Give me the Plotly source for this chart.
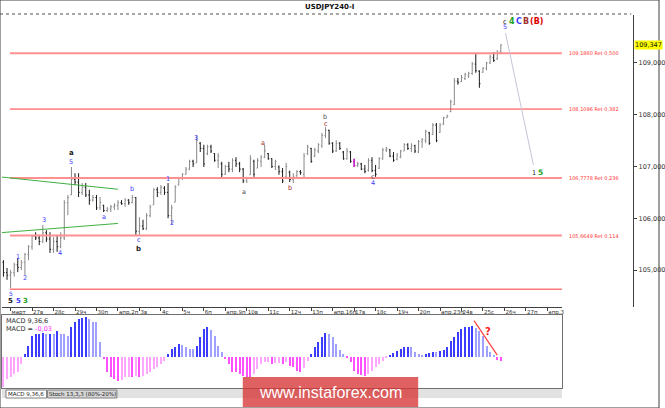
import plotly.graph_objects as go

# USDJPY 4-hour bars, bar 2 opens on 26 March (six bars per trading day)
bar_open = [
    105.15, 104.95, 104.90, 104.95, 105.10, 105.05, 105.15, 105.30, 105.45, 105.65,
    105.62, 105.55, 105.72, 105.60, 105.40, 105.55, 105.45, 105.62, 106.30, 106.45,
    106.75, 106.70, 106.50, 106.60, 106.45, 106.35, 106.40, 106.20, 106.25, 106.15,
    106.18, 106.22, 106.25, 106.30, 106.28, 106.35, 106.30, 106.40, 105.75, 105.85,
    105.80, 106.05, 106.26, 106.55, 106.50, 106.58, 106.50, 106.05, 106.31, 106.64,
    106.78, 106.85, 106.95, 107.10, 107.07, 107.45, 107.35, 107.25, 107.38, 107.25,
    107.12, 107.05, 106.85, 107.00, 106.95, 107.12, 107.05, 106.95, 106.72, 106.84,
    107.10, 106.97, 107.10, 107.18, 107.25, 107.15, 107.00, 106.99, 106.90, 106.80,
    106.89, 106.75, 106.82, 106.90, 106.85, 107.25, 107.35, 107.20, 107.30, 107.40,
    107.60, 107.70, 107.45, 107.30, 107.45, 107.28, 107.15, 107.28, 107.10, 107.02,
    107.05, 106.95, 106.93, 107.12, 106.92, 106.97, 107.15, 107.32, 107.32, 107.20,
    107.14, 107.18, 107.30, 107.42, 107.35, 107.40, 107.28, 107.48, 107.50, 107.65,
    107.62, 107.80, 107.66, 107.82, 107.94, 108.06, 108.20, 108.65, 108.64, 108.70,
    108.75, 108.80, 108.98, 108.84, 108.82, 108.90, 109.00, 109.10, 109.08, 109.22,
]
bar_high = [
    105.19, 105.04, 105.00, 105.14, 105.23, 105.19, 105.33, 105.48, 105.68, 105.73,
    105.68, 105.87, 105.77, 105.73, 105.64, 105.68, 105.73, 106.35, 106.45, 106.99,
    106.87, 106.87, 106.68, 106.68, 106.55, 106.45, 106.45, 106.41, 106.26, 106.22,
    106.26, 106.29, 106.35, 106.35, 106.39, 106.37, 106.45, 106.41, 106.02, 105.97,
    106.10, 106.26, 106.58, 106.60, 106.64, 106.62, 106.68, 106.26, 106.64, 106.80,
    106.87, 106.99, 107.13, 107.13, 107.61, 107.47, 107.42, 107.42, 107.42, 107.26,
    107.26, 107.09, 107.03, 107.09, 107.16, 107.18, 107.09, 106.97, 106.80, 107.22,
    107.13, 107.16, 107.22, 107.42, 107.26, 107.16, 107.13, 107.02, 106.97, 107.07,
    106.92, 106.87, 106.93, 106.93, 107.26, 107.42, 107.36, 107.36, 107.45, 107.65,
    107.76, 107.71, 107.47, 107.51, 107.47, 107.30, 107.36, 107.30, 107.15, 107.09,
    107.07, 107.03, 107.16, 107.18, 107.03, 107.18, 107.36, 107.38, 107.34, 107.28,
    107.26, 107.32, 107.45, 107.45, 107.45, 107.42, 107.51, 107.55, 107.71, 107.67,
    107.84, 107.84, 107.84, 107.96, 108.00, 108.29, 108.71, 108.71, 108.77, 108.81,
    108.83, 109.02, 109.19, 108.86, 108.92, 109.02, 109.16, 109.21, 109.25, 109.36,
]
bar_low = [
    104.87, 104.81, 104.65, 104.87, 104.96, 105.00, 104.90, 105.19, 105.39, 105.58,
    105.48, 105.52, 105.54, 105.33, 105.33, 105.35, 105.42, 105.58, 106.06, 106.45,
    106.64, 106.41, 106.45, 106.41, 106.26, 106.32, 106.16, 106.16, 106.12, 106.12,
    106.12, 106.16, 106.16, 106.26, 106.22, 106.26, 106.29, 105.68, 105.66, 105.77,
    105.77, 106.02, 106.26, 106.41, 106.45, 106.45, 106.00, 105.87, 106.31, 106.64,
    106.74, 106.84, 106.93, 106.99, 107.07, 107.28, 106.99, 107.22, 107.26, 107.09,
    106.97, 106.78, 106.84, 106.89, 106.89, 106.99, 106.89, 106.68, 106.68, 106.84,
    106.80, 106.97, 106.99, 107.16, 107.13, 106.97, 106.93, 106.84, 106.68, 106.78,
    106.70, 106.68, 106.80, 106.84, 106.78, 107.22, 107.07, 107.18, 107.26, 107.36,
    107.55, 107.42, 107.26, 107.28, 107.32, 107.13, 107.13, 107.07, 106.99, 106.99,
    106.93, 106.87, 106.90, 106.89, 106.80, 106.95, 107.13, 107.28, 107.18, 107.09,
    107.12, 107.16, 107.30, 107.32, 107.28, 107.26, 107.26, 107.36, 107.45, 107.42,
    107.61, 107.47, 107.65, 107.80, 107.94, 108.05, 108.19, 108.58, 108.63, 108.67,
    108.71, 108.77, 108.81, 108.52, 108.81, 108.86, 108.98, 109.02, 109.06, 109.19,
]
bar_close = [
    104.95, 104.90, 104.95, 105.10, 105.05, 105.15, 105.30, 105.45, 105.65, 105.62,
    105.55, 105.72, 105.60, 105.40, 105.55, 105.45, 105.62, 106.30, 106.40, 106.75,
    106.70, 106.50, 106.60, 106.45, 106.35, 106.40, 106.20, 106.30, 106.15, 106.18,
    106.22, 106.25, 106.30, 106.28, 106.35, 106.30, 106.40, 105.75, 105.85, 105.80,
    106.05, 106.22, 106.55, 106.50, 106.60, 106.50, 106.05, 106.20, 106.60, 106.78,
    106.85, 106.95, 107.10, 107.05, 107.50, 107.35, 107.05, 107.38, 107.30, 107.12,
    107.20, 106.85, 107.00, 106.95, 107.12, 107.05, 106.95, 106.72, 106.78, 107.15,
    106.85, 107.12, 107.18, 107.30, 107.15, 107.00, 107.10, 106.90, 106.72, 107.00,
    106.75, 106.80, 106.90, 106.88, 107.20, 107.38, 107.10, 107.32, 107.42, 107.60,
    107.70, 107.45, 107.30, 107.45, 107.35, 107.15, 107.30, 107.10, 107.02, 107.05,
    106.95, 106.90, 107.12, 106.92, 106.85, 107.15, 107.32, 107.35, 107.20, 107.12,
    107.22, 107.30, 107.42, 107.35, 107.40, 107.30, 107.48, 107.52, 107.68, 107.45,
    107.80, 107.50, 107.80, 107.94, 107.98, 108.25, 108.65, 108.62, 108.72, 108.78,
    108.80, 108.98, 108.85, 108.60, 108.90, 109.00, 109.12, 109.05, 109.20, 109.347,
]

# MACD(9,36,6) histogram, one value per bar
macd_hist = [
    -0.198, -0.141, -0.134, -0.109, -0.102, -0.045, 0.019, 0.070, 0.134, 0.147,
    0.147, 0.148, 0.146, 0.147, 0.141, 0.166, 0.147, 0.146, 0.134, 0.186,
    0.218, 0.237, 0.248, 0.250, 0.237, 0.224, 0.218, 0.090, -0.019, -0.102,
    -0.134, -0.147, -0.154, -0.149, -0.134, -0.130, -0.131, -0.122, -0.128, -0.122,
    -0.109, -0.102, -0.077, -0.064, -0.045, -0.026, 0.017, 0.049, 0.060, 0.077,
    0.076, 0.058, 0.050, 0.049, 0.066, 0.122, 0.177, 0.188, 0.171, 0.134,
    0.070, 0.028, -0.015, -0.047, -0.100, -0.101, -0.111, -0.122, -0.132, -0.133,
    -0.111, -0.079, -0.047, -0.038, -0.037, -0.045, -0.044, -0.039, -0.046, -0.036,
    -0.058, -0.070, -0.090, -0.100, -0.075, -0.030, 0.013, 0.060, 0.092, 0.123,
    0.148, 0.145, 0.128, 0.077, 0.043, 0.017, -0.008, -0.036, -0.090, -0.109,
    -0.120, -0.122, -0.111, -0.090, -0.068, -0.047, -0.026, -0.011, 0.006, 0.021,
    0.038, 0.050, 0.058, 0.064, 0.059, 0.028, 0.013, 0.007, 0.013, 0.021,
    0.032, 0.031, 0.033, 0.043, 0.060, 0.102, 0.124, 0.156, 0.177, 0.187,
    0.192, 0.198, 0.184, 0.166, 0.134, 0.070, 0.028, 0.006, -0.021, -0.030,
]

day_labels = ["март", "27в", "28с", "29ч", "30п", "апр.2п", "3в", "4с", "5ч", "6п",
              "апр.9п", "10в", "11с", "12ч", "13п", "апр.16п", "17в", "18с", "19ч",
              "20п", "апр.23п", "24в", "25с", "26ч", "27п", "апр.3"]

fib_levels = [109.1860, 108.1096, 106.7778, 105.6649]
fib_ratios = ["0,500", "0,382", "0,236", "0,114"]
fib_base = 104.63
last_price = 109.347
last_macd = -0.03

# hand drawn lines (bar index, price)
channel_bars = [-1, 32]
channel_upper = [106.80, 106.56]
channel_lower = [105.72, 105.90]
proj_bars = [140.3, 148.1]
proj_prices = [109.58, 107.03]
macd_line_bars = [131.5, 138.0]
macd_line_vals = [0.226, 0.006]
magenta_bar = 98

# wave labels: text, bar, price, colour, size, bold
BLUE = "#3c3cff"
BROWN = "#a03030"
GREEN = "#20a020"
waves = [
    ("a", 19.0, 107.26, "#202020", 7, True), ("5", 19.0, 107.09, BLUE, 6.5, False),
    ("3", 11.2, 105.97, BLUE, 6.5, False), ("4", 15.9, 105.33, BLUE, 6.5, False),
    ("1", 4.0, 105.25, BLUE, 6.5, False), ("2", 6.0, 104.85, BLUE, 6.5, False),
    ("5", 2.0, 104.54, BLUE, 6, False),
    ("5", 2.0, 104.41, "#202020", 7, True), ("5", 4.1, 104.41, BLUE, 7, True),
    ("3", 6.2, 104.41, GREEN, 7, True),
    ("a", 28.1, 106.02, BLUE, 6.5, False), ("b", 35.9, 106.57, BLUE, 6.5, False),
    ("c", 37.8, 105.58, BLUE, 6.5, False), ("b", 37.8, 105.41, "#202020", 7, True),
    ("1", 46.1, 106.76, BLUE, 6.5, False), ("2", 47.0, 105.91, BLUE, 6.5, False),
    ("3", 53.9, 107.55, BLUE, 6.5, False),
    ("a", 67.2, 106.51, "#505050", 6.5, False), ("a", 72.4, 107.45, BROWN, 6.5, False),
    ("b", 80.2, 106.58, BROWN, 6.5, False), ("b", 89.9, 107.96, "#505050", 6.5, False),
    ("c", 90.1, 107.82, BROWN, 6.5, False),
    ("c", 103.2, 106.80, "#505050", 6.5, False), ("4", 103.2, 106.68, BLUE, 6.5, False),
    ("c", 140.3, 109.80, "#202020", 6.5, False), ("5", 140.3, 109.69, BLUE, 6.5, False),
    ("4", 142.2, 109.81, GREEN, 8, True), ("C", 144.1, 109.81, BLUE, 8, True),
    ("B", 146.1, 109.81, BROWN, 8, True), ("(B)", 149.1, 109.81, "#e00000", 8, True),
    ("1", 148.2, 106.88, "#202020", 6.5, False), ("5", 150.2, 106.88, GREEN, 7.5, True),
]

W, H = 665, 408
bars = list(range(len(bar_close)))


def px(x):
    return x / W


def py(y):
    return 1 - y / H


def note(x, y, text, size, color, anchor="left", family=None):
    # text placed in page pixels
    font = dict(size=size, color=color)
    if family:
        font["family"] = family
    fig.add_annotation(x=px(x), y=py(y), xref="paper", yref="paper", showarrow=False,
                       xanchor=anchor, yanchor="middle", text=text, font=font)


macd_colors = []
for i, v in enumerate(macd_hist):
    prev = macd_hist[i - 1] if i else v
    if v >= 0:
        macd_colors.append("#3c3cff" if v >= prev else "#a0a0ff")
    else:
        macd_colors.append("#ff50ff" if v < prev else "#ffa6ff")

fig = go.Figure()

fig.add_trace(go.Ohlc(
    x=bars, open=bar_open, high=bar_high, low=bar_low, close=bar_close,
    increasing_line_color="#888888", decreasing_line_color="#1a1a1a",
    line_width=1, tickwidth=0.3, hoverinfo="skip",
))

keep = [i == magenta_bar for i in bars]
fig.add_trace(go.Ohlc(
    x=bars,
    open=[o if k else None for o, k in zip(bar_open, keep)],
    high=[h if k else None for h, k in zip(bar_high, keep)],
    low=[l if k else None for l, k in zip(bar_low, keep)],
    close=[c if k else None for c, k in zip(bar_close, keep)],
    increasing_line_color="#ff00ff", decreasing_line_color="#ff00ff",
    line_width=1, tickwidth=0.3, hoverinfo="skip",
))

# fibonacci retracement levels
for lvl, ratio in zip(fib_levels, fib_ratios):
    light = ratio in ("0,500", "0,236", "0,114")
    fig.add_trace(go.Scatter(
        x=[1.8, 157], y=[lvl, lvl], mode="lines", hoverinfo="skip",
        line=dict(color="#ff9090" if light else "#ff3838", width=2 if light else 1),
    ))
    fig.add_annotation(
        x=px(572), xref="paper", y=lvl, yref="y", xanchor="left", yanchor="middle",
        showarrow=False, text=f"{lvl:.4f}".replace(".", ",") + " Ret " + ratio,
        font=dict(size=5, color="#ff3030"),
    )
fig.add_trace(go.Scatter(x=[1.8, 157], y=[fib_base, fib_base], mode="lines",
                         hoverinfo="skip", line=dict(color="#ff3838", width=1)))

for ys in (channel_upper, channel_lower):
    fig.add_trace(go.Scatter(x=channel_bars, y=ys, mode="lines", hoverinfo="skip",
                             line=dict(color="#40b040", width=1)))

fig.add_trace(go.Scatter(x=proj_bars, y=proj_prices, mode="lines", hoverinfo="skip",
                         line=dict(color="#c4c4d8", width=1)))

# MACD panel
fig.add_trace(go.Bar(x=bars, y=macd_hist, marker_color=macd_colors, marker_line_width=0,
                     width=0.3, xaxis="x2", yaxis="y2", hoverinfo="skip"))
fig.add_trace(go.Scatter(x=macd_line_bars, y=macd_line_vals, mode="lines",
                         xaxis="x2", yaxis="y2", hoverinfo="skip",
                         line=dict(color="#ff4040", width=1.2)))
fig.add_annotation(x=135.5, y=0.156, xref="x2", yref="y2", text="<b>?</b>", showarrow=False,
                   font=dict(size=10, color="#ff2020"))

for text, b, p, col, size, bold in waves:
    fig.add_annotation(x=b, y=p, xref="x", yref="y", showarrow=False,
                       text=f"<b>{text}</b>" if bold else text,
                       font=dict(size=size, color=col))

fig.update_layout(
    width=W, height=H,
    margin=dict(l=0, r=0, t=0, b=0),
    paper_bgcolor="white", plot_bgcolor="white",
    separators=",.",
    showlegend=False,
    bargap=0,
    font=dict(family="DejaVu Sans", size=6, color="#202020"),
    xaxis=dict(
        domain=[px(2), px(567)], range=[-0.41, 156.06], rangeslider_visible=False,
        showgrid=False, zeroline=False, showline=True, linecolor="#404040",
        ticks="outside", ticklen=3, tickcolor="#404040",
        tickvals=[2 + 6 * i for i in range(len(day_labels))], ticktext=day_labels,
        ticklabelposition="outside right", tickangle=0,
        tickfont=dict(size=5.5, color="#303030"),
    ),
    yaxis=dict(
        domain=[py(306.5), py(15)], range=[104.295, 109.927],
        side="right", anchor="free", position=px(639),
        showgrid=False, zeroline=False, showline=True, linecolor="#404040",
        ticks="outside", ticklen=3, tickcolor="#404040",
        tickvals=[105, 106, 107, 108, 109], tickformat=".3f",
        tickfont=dict(size=6.5, color="#303030"),
    ),
    xaxis2=dict(
        domain=[px(2), px(567)], range=[-0.41, 156.06], anchor="y2",
        showticklabels=False, ticks="", showgrid=False, zeroline=False,
        showline=True, mirror=True, linecolor="#707070",
    ),
    yaxis2=dict(
        domain=[py(387.7), py(314.5)], range=[-0.2029, 0.2656], anchor="x2",
        showticklabels=False, ticks="", showgrid=False, zeroline=False,
        showline=True, mirror=True, linecolor="#707070",
    ),
)

shapes = [
    # dotted separator under the title
    dict(type="line", xref="paper", yref="paper", x0=0, x1=px(637), y0=py(14), y1=py(14),
         line=dict(color="#a8a8a8", width=2, dash="dot")),
    # indicator tab strip
    dict(type="rect", xref="paper", yref="paper", x0=px(2), x1=px(567), y0=py(398), y1=py(389),
         fillcolor="#e2e2e2", line=dict(width=0)),
    dict(type="rect", xref="paper", yref="paper", x0=px(6), x1=px(47), y0=py(398), y1=py(390),
         fillcolor="#ffffff", line=dict(color="#808080", width=1)),
    dict(type="rect", xref="paper", yref="paper", x0=px(48), x1=px(118), y0=py(398), y1=py(390),
         fillcolor="#d6d6d6", line=dict(color="#808080", width=1)),
    # watermark box
    dict(type="rect", xref="paper", yref="paper", x0=px(245), x1=px(422), y0=py(407), y1=py(377),
         fillcolor="rgba(214,52,52,0.78)", line=dict(width=0)),
    # outer frame
    dict(type="rect", xref="paper", yref="paper", x0=0, x1=1, y0=0, y1=1,
         line=dict(color="#404040", width=1)),
]
fig.update_layout(shapes=shapes)

note(332, 7, "<b>USDJPY240-I</b>", 7, "#101010", anchor="center")
fig.add_annotation(x=px(640), y=last_price, xref="paper", yref="y", xanchor="left",
                   yanchor="middle", showarrow=False, bgcolor="#ffff00", borderpad=0,
                   text=f"{last_price:.3f}".replace(".", ","),
                   font=dict(size=6.5, color="#101010"))
note(4, 321, "MACD 9,36,6", 6.5, "#303030")
note(4, 328.5, "MACD = <span style='color:#ff30ff'>"
     + f"{last_macd:.2f}".replace(".", ",") + "</span>", 6.5, "#303030")
note(26.5, 394, "MACD 9,36,6", 5.5, "#202020", anchor="center")
note(83, 394, "Stoch 13,3,3 (80%-20%)", 5.5, "#202020", anchor="center")
note(333.5, 392, "www.instaforex.com", 16, "white", anchor="center", family="Liberation Sans")

# page body has a default 8px margin; drop it so the chart fills the window
fig.write_html(
    "out.html",
    config={"displayModeBar": False},
    post_script="document.body.style.margin='0';document.body.style.overflow='hidden';",
)
